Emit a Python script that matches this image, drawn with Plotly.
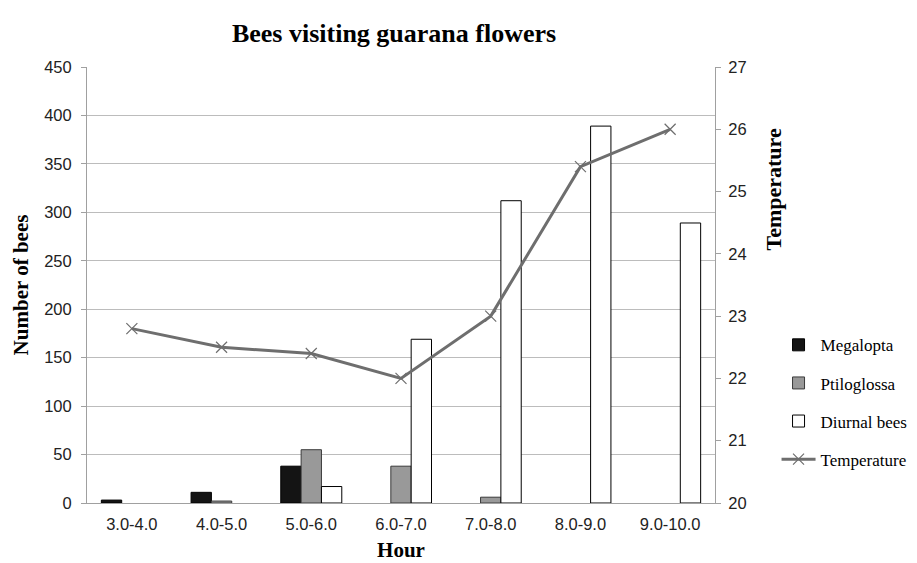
import plotly.graph_objects as go

hours = ["3.0-4.0", "4.0-5.0", "5.0-6.0", "6.0-7.0", "7.0-8.0", "8.0-9.0", "9.0-10.0"]
megalopta = [3, 11, 38, None, None, None, None]
ptiloglossa = [None, 2, 55, 38, 6, None, None]
diurnal = [None, None, 17, 169, 312, 389, 289]
temperature = [22.8, 22.5, 22.4, 22.0, 23.0, 25.4, 26.0]

fig = go.Figure()
fig.add_trace(go.Bar(x=hours, y=megalopta, name="Megalopta", legendgroup="a",
                     marker=dict(color="#141414", line=dict(color="#000000", width=1))))
fig.add_trace(go.Bar(x=hours, y=ptiloglossa, name="Ptiloglossa", legendgroup="b",
                     marker=dict(color="#999999", line=dict(color="#3a3a3a", width=1))))
fig.add_trace(go.Bar(x=hours, y=diurnal, name="Diurnal bees", legendgroup="c",
                     marker=dict(color="#ffffff", line=dict(color="#000000", width=1))))
fig.add_trace(go.Scatter(x=hours, y=temperature, name="Temperature", yaxis="y2",
                         legendgroup="d", mode="lines+markers",
                         line=dict(color="#6e6e6e", width=3),
                         marker=dict(symbol="x-thin", size=11, color="#6e6e6e",
                                     line=dict(color="#6e6e6e", width=1.2))))

axis_title_font = dict(family="Liberation Serif", size=21, color="#000")
tick_font = dict(family="Liberation Sans", size=16.5, color="#222")

fig.update_layout(
    width=917, height=563,
    paper_bgcolor="white", plot_bgcolor="white",
    margin=dict(l=79, r=210, t=59, b=68, autoexpand=False),
    title=dict(text="<b>Bees visiting guarana flowers</b>", x=0.421, xanchor="center",
               y=0.955, yanchor="middle",
               font=dict(family="Liberation Serif", size=26, color="#000")),
    barmode="group", bargap=0.32, bargroupgap=0,
    font=dict(family="Liberation Sans", size=16.5, color="#222"),
    xaxis=dict(showline=True, linecolor="#a0a0a0", linewidth=1, ticks="",
               ticklabelstandoff=6, automargin=False,
               title=dict(text="<b>Hour</b>", standoff=10, font=axis_title_font),
               tickfont=tick_font),
    yaxis=dict(range=[0, 450], dtick=50, showgrid=True, gridcolor="#bcbcbc", gridwidth=1,
               showline=True, linecolor="#a0a0a0", ticks="outside", ticklen=5,
               tickcolor="#a0a0a0", zeroline=False, ticklabelstandoff=6, automargin=False,
               title=dict(text="<b>Number of bees</b>", standoff=9, font=axis_title_font),
               tickfont=tick_font),
    yaxis2=dict(range=[20, 27], dtick=1, overlaying="y", side="right", showgrid=False,
                showline=True, linecolor="#a0a0a0", ticks="outside", ticklen=5,
                tickcolor="#a0a0a0", zeroline=False, ticklabelstandoff=4, automargin=False,
                tickfont=tick_font),
    legend=dict(x=1.098, y=0.403, xanchor="left", yanchor="top",
                traceorder="grouped", tracegroupgap=13,
                font=dict(family="Liberation Serif", size=17, color="#000"),
                itemwidth=34, bgcolor="rgba(0,0,0,0)"),
    showlegend=True,
    annotations=[dict(text="<b>Temperature</b>", xref="paper", yref="paper",
                      x=1.093, y=0.72, xanchor="center", yanchor="middle",
                      textangle=-90, showarrow=False,
                      font=dict(family="Liberation Serif", size=22, color="#000"))],
)

fig.write_html("out.html")
